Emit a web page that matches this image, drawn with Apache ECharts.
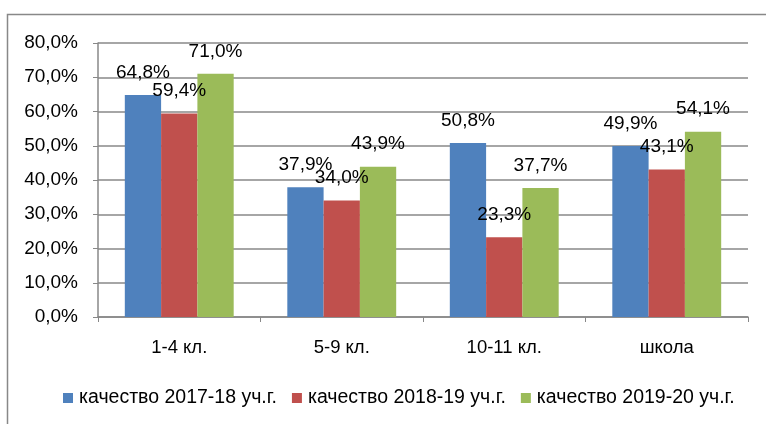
<!DOCTYPE html>
<html>
<head>
    <meta charset="utf-8">
    <title>качество</title>
    <script src="https://cdn.jsdelivr.net/npm/echarts@6/dist/echarts.min.js"></script>
    <style type="text/css">
        html, body { margin: 0; padding: 0; background: #fff; }
        #main { width: 766px; height: 424px; }
    </style>
</head>
<body>
<div id="main"></div>
<script>
    // данные диаграммы
    var categories = ['1-4 кл.', '5-9 кл.', '10-11 кл.', 'школа'];
    var seriesNames = ['качество 2017-18 уч.г.', 'качество 2018-19 уч.г.', 'качество 2019-20 уч.г.'];
    var q2017 = [64.8, 37.9, 50.8, 49.9];
    var q2018 = [59.4, 34.0, 23.3, 43.1];
    var q2019 = [71.0, 43.9, 37.7, 54.1];
    var colors = ['#4F81BD', '#C0504D', '#9BBB59'];

    var font = 'Liberation Sans';

    function pct(v) {
        return v.toFixed(1).replace('.', ',') + '%';
    }

    function makeSeries(name, data) {
        return {
            name: name,
            type: 'bar',
            data: data,
            barGap: '0%',
            barCategoryGap: '33%',
            label: {
                show: true,
                position: 'top',
                distance: 13,
                color: '#000',
                fontFamily: font,
                fontSize: 19,
                formatter: function (p) { return pct(p.value); }
            }
        };
    }

    var chart = echarts.init(document.getElementById('main'));
    chart.setOption({
        animation: false,
        color: colors,
        graphic: [{
            type: 'rect',
            shape: {x: 7.5, y: 14.5, width: 800, height: 500},
            style: {fill: 'none', stroke: '#888', lineWidth: 1.5},
            silent: true
        }],
        grid: {left: 98, right: 18, top: 43, bottom: 107, containLabel: false},
        legend: {
            bottom: 11,
            left: 58,
            itemWidth: 10,
            itemHeight: 10,
            itemGap: 15,
            icon: 'rect',
            textStyle: {fontFamily: font, fontSize: 19.5, color: '#000', padding: [0, 0, 0, 1]},
            data: seriesNames
        },
        xAxis: {
            type: 'category',
            data: categories,
            axisLine: {lineStyle: {color: '#888', width: 1.5}},
            axisTick: {show: true, length: 5, lineStyle: {color: '#888'}},
            axisLabel: {margin: 21, color: '#000', fontFamily: font, fontSize: 18.5}
        },
        yAxis: {
            type: 'value',
            min: 0,
            max: 80,
            interval: 10,
            axisLine: {show: true, lineStyle: {color: '#888', width: 1.5}},
            axisTick: {show: true, length: 5, lineStyle: {color: '#888'}},
            splitLine: {lineStyle: {color: '#888', width: 1.5}},
            axisLabel: {
                margin: 20,
                color: '#000',
                fontFamily: font,
                fontSize: 19,
                formatter: function (v) { return pct(v); }
            }
        },
        series: [
            makeSeries(seriesNames[0], q2017),
            makeSeries(seriesNames[1], q2018),
            makeSeries(seriesNames[2], q2019)
        ]
    });
</script>
</body>
</html>
